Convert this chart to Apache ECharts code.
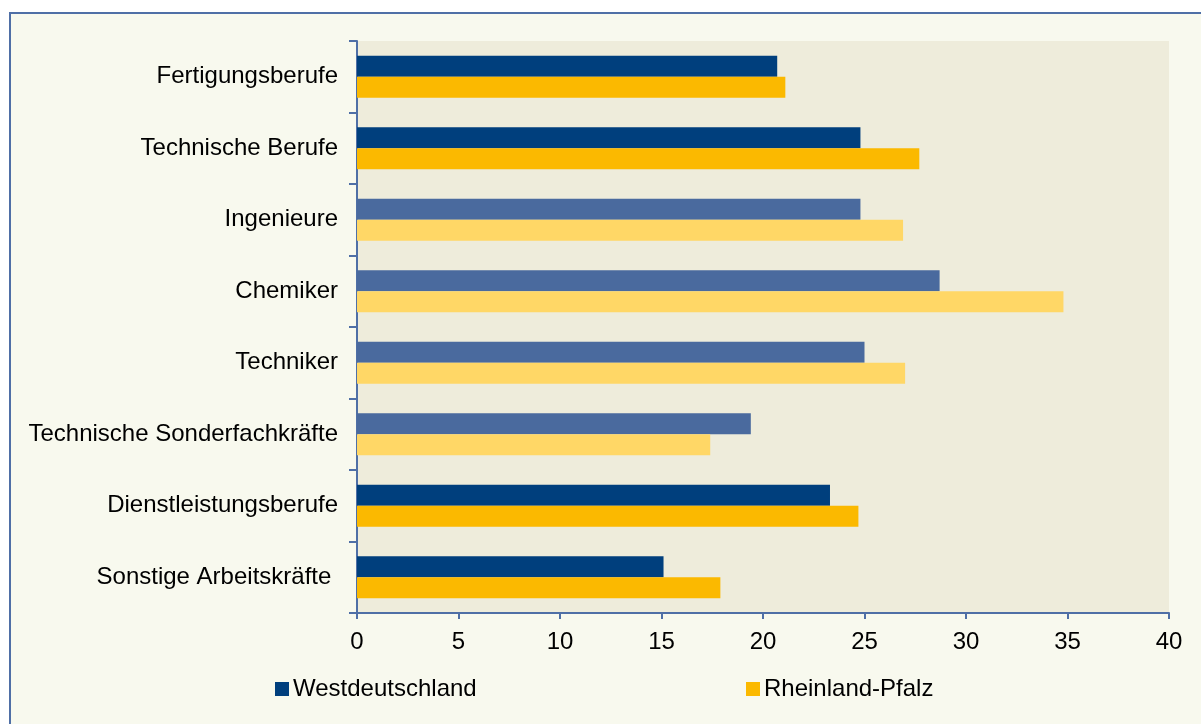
<!DOCTYPE html>
<html>
<head>
<meta charset="utf-8">
<script src="https://cdn.jsdelivr.net/npm/echarts@6/dist/echarts.min.js"></script>
<style>
  html, body { margin: 0; padding: 0; background: #ffffff; }
  #frame {
    position: absolute; left: 9px; top: 12px; width: 1300px; height: 800px;
    background: #f8f9ee; border-top: 2px solid #4f6fa6; border-left: 2px solid #4f6fa6;
  }
  #chart { position: absolute; left: 0; top: 0; width: 1201px; height: 724px; }
</style>
</head>
<body>
<div id="frame"></div>
<div id="chart"></div>
<script>
const categories = [
  'Fertigungsberufe',
  'Technische Berufe',
  'Ingenieure',
  'Chemiker',
  'Techniker',
  'Technische Sonderfachkräfte',
  'Dienstleistungsberufe',
  'Sonstige Arbeitskräfte '
];
const westdeutschland = [20.7, 24.8, 24.8, 28.7, 25.0, 19.4, 23.3, 15.1];
const rheinlandPfalz = [21.1, 27.7, 26.9, 34.8, 27.0, 17.4, 24.7, 17.9];
// Untergruppen der technischen Berufe werden heller dargestellt
const subGroup = [false, false, true, true, true, true, false, false];
const xTicks = [0, 40, 5];

const blue = '#003f7d', blueLight = '#4a6a9e';
const gold = '#fbb900', goldLight = '#ffd766';

const chart = echarts.init(document.getElementById('chart'));

function colored(values, dark, light) {
  return values.map((v, i) => ({
    value: v,
    itemStyle: { color: subGroup[i] ? light : dark }
  }));
}

const font = 'Liberation Sans, Arial, sans-serif';
const legendText = { fontSize: 24, color: '#000', fontFamily: font, padding: [0, 0, 0, -1] };

chart.setOption({
  backgroundColor: 'transparent',
  textStyle: { fontFamily: font },
  animation: false,
  grid: {
    left: 357, right: 32, top: 41, bottom: 111,
    show: true, backgroundColor: '#eeecdb', borderWidth: 0
  },
  legend: [
    {
      data: ['Westdeutschland'], left: 275, top: 677, padding: 0,
      icon: 'rect', itemWidth: 14, itemHeight: 14, itemGap: 4,
      textStyle: legendText
    },
    {
      data: ['Rheinland-Pfalz'], left: 746, top: 677, padding: 0,
      icon: 'rect', itemWidth: 14, itemHeight: 14, itemGap: 4,
      textStyle: legendText
    }
  ],
  xAxis: {
    type: 'value', min: xTicks[0], max: xTicks[1], interval: xTicks[2],
    splitLine: { show: false },
    axisLine: { show: true, lineStyle: { color: '#4f6fa6', width: 2 } },
    axisTick: { show: true, length: 6, lineStyle: { color: '#4f6fa6', width: 2 } },
    axisLabel: { fontSize: 24, color: '#000', margin: 17, fontFamily: font }
  },
  yAxis: {
    type: 'category', data: categories, inverse: true,
    axisLine: { show: true, lineStyle: { color: '#4f6fa6', width: 2 } },
    axisTick: { show: true, length: 8, lineStyle: { color: '#4f6fa6', width: 2 } },
    axisLabel: { fontSize: 24, color: '#000', margin: 19, fontFamily: font }
  },
  series: [
    {
      name: 'Westdeutschland', type: 'bar', barWidth: 21, barGap: '0%',
      itemStyle: { color: blue },
      data: colored(westdeutschland, blue, blueLight)
    },
    {
      name: 'Rheinland-Pfalz', type: 'bar', barWidth: 21, barGap: '0%',
      itemStyle: { color: gold },
      data: colored(rheinlandPfalz, gold, goldLight)
    }
  ]
});
</script>
</body>
</html>
